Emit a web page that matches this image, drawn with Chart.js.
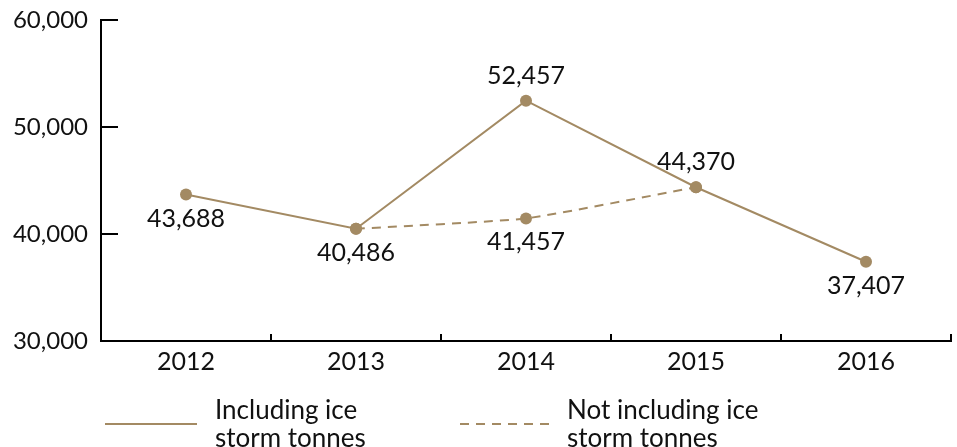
<!DOCTYPE html>
<html>
<head>
<meta charset="utf-8">
<script src="https://cdn.jsdelivr.net/npm/chart.js@4.4.1/dist/chart.umd.min.js"></script>
<style>
  html, body { margin: 0; padding: 0; background: #fff; }
  #wrap { width: 957px; height: 447px; position: relative; }
</style>
</head>
<body>
<div id="wrap"><canvas id="tonnesChart" width="957" height="447"></canvas></div>
<script>
const years = ['2012', '2013', '2014', '2015', '2016'];
const includingIce = [43688, 40486, 52457, 44370, 37407];
const notIncludingIce = [null, 40486, 41457, 44370, null];
const yTicks = [30000, 40000, 50000, 60000];
const legendLabels = [['Including ice', 'storm tonnes'], ['Not including ice', 'storm tonnes']];
// where each value label sits: 'above', 'below' or '' for none
const solidLabelPos = ['below', 'below', 'above', 'above', 'below'];
const dashLabelPos = ['', '', 'below', '', ''];

const brown = '#a38a63';
const FONT = 'Lato, "Open Sans", sans-serif';

const fmt = v => v.toLocaleString('en-US');

// draws axis tick marks, value labels and the legend
const extras = {
    id: 'extras',
    afterDatasetsDraw(chart) {
        const ctx = chart.ctx;
        const area = chart.chartArea;
        const x = chart.scales.x;
        const y = chart.scales.y;
        ctx.save();
        ctx.strokeStyle = '#000';
        ctx.lineWidth = 2;
        // y ticks pointing into the plot
        yTicks.forEach(function (t) {
            if (t === y.min) return;
            const py = Math.round(y.getPixelForValue(t));
            ctx.beginPath();
            ctx.moveTo(area.left, py);
            ctx.lineTo(area.left + 17, py);
            ctx.stroke();
        });
        // x ticks at category boundaries
        for (let i = 0; i < years.length; i++) {
            const px = i < years.length - 1
                ? (x.getPixelForTick(i) + x.getPixelForTick(i + 1)) / 2
                : area.right;
            ctx.beginPath();
            ctx.moveTo(Math.round(px), area.bottom);
            ctx.lineTo(Math.round(px), area.bottom - 7);
            ctx.stroke();
        }

        // value labels
        ctx.fillStyle = '#111';
        ctx.font = '25px ' + FONT;
        ctx.textAlign = 'center';
        ctx.textBaseline = 'middle';
        const drawLabels = function (dsIndex, values, pos) {
            const meta = chart.getDatasetMeta(dsIndex);
            values.forEach(function (v, i) {
                if (v === null || !pos[i]) return;
                const pt = meta.data[i];
                const dy = pos[i] === 'above' ? -25 : 24;
                ctx.fillText(fmt(v), pt.x, pt.y + dy);
            });
        };
        drawLabels(0, includingIce, solidLabelPos);
        drawLabels(1, notIncludingIce, dashLabelPos);

        // legend
        ctx.font = '26px ' + FONT;
        const items = [
            { x0: 105, x1: 197, tx: 215, dash: [] },
            { x0: 460, x1: 553, tx: 567, dash: [9, 7] }
        ];
        items.forEach(function (it, k) {
            ctx.strokeStyle = brown;
            ctx.lineWidth = 2;
            ctx.setLineDash(it.dash);
            ctx.beginPath();
            ctx.moveTo(it.x0, 424);
            ctx.lineTo(it.x1, 424);
            ctx.stroke();
            ctx.setLineDash([]);
            ctx.textAlign = 'left';
            legendLabels[k].forEach(function (line, j) {
                ctx.fillText(line, it.tx, 411 + j * 28);
            });
        });
        ctx.restore();
    }
};

document.addEventListener('DOMContentLoaded', function () {
    const ctx = document.getElementById('tonnesChart').getContext('2d');
    new Chart(ctx, {
        type: 'line',
        data: {
            labels: years,
            datasets: [{
                label: 'Including ice storm tonnes',
                data: includingIce,
                borderColor: brown,
                backgroundColor: brown,
                borderWidth: 2,
                pointRadius: 6,
                pointHoverRadius: 6,
                pointBackgroundColor: brown,
                pointBorderWidth: 0,
                tension: 0
            }, {
                label: 'Not including ice storm tonnes',
                data: notIncludingIce,
                borderColor: brown,
                backgroundColor: brown,
                borderWidth: 2,
                borderDash: [9, 7],
                pointRadius: 6,
                pointHoverRadius: 6,
                pointBackgroundColor: brown,
                pointBorderWidth: 0,
                tension: 0.15,
                spanGaps: false
            }]
        },
        options: {
            responsive: false,
            animation: false,
            layout: { padding: { top: 20, right: 6, left: 0, bottom: 0 } },
            plugins: {
                legend: { display: false },
                tooltip: { enabled: false }
            },
            scales: {
                x: {
                    offset: true,
                    grid: { display: false, drawTicks: false },
                    border: { display: true, color: '#000', width: 2 },
                    ticks: {
                        color: '#111',
                        font: { family: FONT, size: 25 },
                        padding: 6,
                        maxRotation: 0
                    },
                    afterFit: function (scale) {
                        scale.height = 106;
                        scale.paddingLeft = 0;
                        scale.paddingRight = 0;
                    }
                },
                y: {
                    min: 30000,
                    max: 60000,
                    grid: { display: false, drawTicks: false },
                    border: { display: true, color: '#000', width: 2 },
                    afterBuildTicks: function (scale) {
                        scale.ticks = yTicks.map(v => ({ value: v }));
                    },
                    ticks: {
                        color: '#111',
                        font: { family: FONT, size: 24 },
                        padding: 13,
                        callback: v => fmt(v)
                    },
                    afterFit: function (scale) {
                        scale.width = 101;
                        scale.paddingTop = 0;
                        scale.paddingBottom = 0;
                    }
                }
            }
        },
        plugins: [extras]
    });
});
</script>
</body>
</html>
